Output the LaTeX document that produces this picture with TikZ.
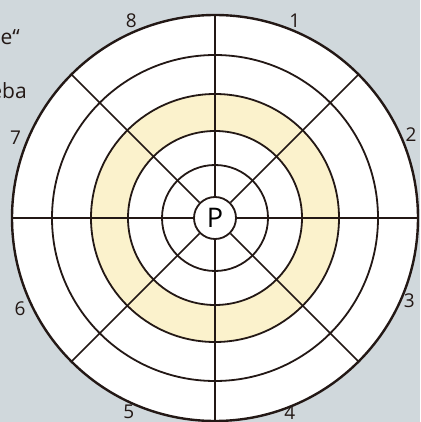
\documentclass[tikz,border=0pt]{standalone}
\usepackage{fontspec}
\setmainfont{Open Sans}
\usepackage{xcolor}
\definecolor{pagebg}{RGB}{208,216,220}
\definecolor{ringfill}{RGB}{251,242,204}
\definecolor{inkline}{RGB}{35,24,21}
\usetikzlibrary{positioning}

\begin{document}
\begin{tikzpicture}[
  x=1pt, y=1pt,
  ring/.style={draw=inkline, line width=1.8pt},
  rim/.style={draw=inkline, line width=2.4pt},
  spoke/.style={draw=inkline, line width=1.5pt},
  sector/.style={font=\fontsize{19}{22}\selectfont, text=inkline, inner sep=0pt},
  scrap/.style={font=\fontsize{21}{24}\selectfont, text=inkline, anchor=east, inner sep=0pt}
]
\fill[pagebg] (-215,-204) rectangle (205,218);
\useasboundingbox (-215,-204) rectangle (205,218);

% cut-off text of the page
\node[scrap] (quote) at (-195,181) {e“};
\node[scrap] (word) at (-188,127) {eba};

% disk and the marked ring
\fill[white] (0,0) circle[radius=203pt];
\fill[ringfill, even odd rule] (0,0) circle[radius=124pt] (0,0) circle[radius=87pt];

\node[circle, draw=inkline, line width=1.8pt, fill=white, minimum size=42pt, inner sep=0pt, font=\fontsize{27}{30}\selectfont] (p) at (0,0) {P};

\coordinate (o1) at (90:203);
\coordinate (o2) at (45:203);
\coordinate (o3) at (0:203);
\coordinate (o4) at (-45:203);
\coordinate (o5) at (-90:203);
\coordinate (o6) at (-135:203);
\coordinate (o7) at (180:203);
\coordinate (o8) at (135:203);

\draw[spoke] (p) -- (o1);
\draw[spoke] (p) -- (o2);
\draw[spoke] (p) -- (o3);
\draw[spoke] (p) -- (o4);
\draw[spoke] (p) -- (o5);
\draw[spoke] (p) -- (o6);
\draw[spoke] (p) -- (o7);
\draw[spoke] (p) -- (o8);

\draw[ring] (0,0) circle[radius=53pt];
\draw[ring] (0,0) circle[radius=87pt];
\draw[ring] (0,0) circle[radius=124pt];
\draw[ring] (0,0) circle[radius=163pt];
\draw[rim] (0,0) circle[radius=203pt];

% sector numbers
\node[sector] (n1) at (68:213) {1};
\node[sector] (n2) at (23:213) {2};
\node[sector] (n3) at (-23:211) {3};
\node[sector] (n4) at (-69:209) {4};
\node[sector] (n5) at (-114:212) {5};
\node[sector] (n6) at (-155:215) {6};
\node[sector] (n7) at (158:215) {7};
\node[sector] (n8) at (113:214) {8};
\end{tikzpicture}
\end{document}
